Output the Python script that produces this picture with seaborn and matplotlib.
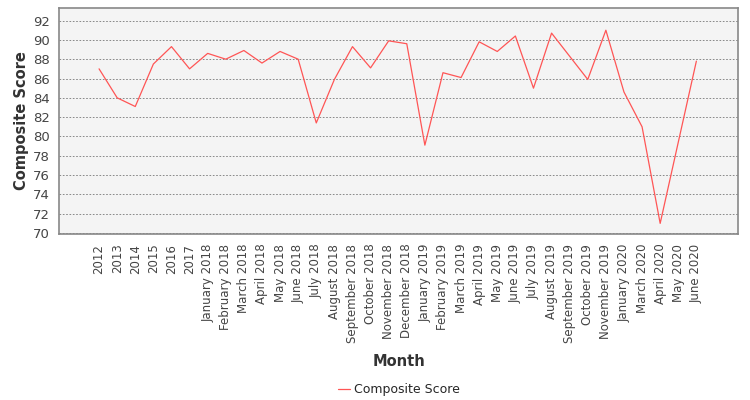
import matplotlib
matplotlib.use('Agg')
import matplotlib.pyplot as plt
import seaborn as sns
import pandas as pd

months = ['2012', '2013', '2014', '2015', '2016', '2017',
          'January 2018', 'February 2018', 'March 2018', 'April 2018', 'May 2018', 'June 2018',
          'July 2018', 'August 2018', 'September 2018', 'October 2018', 'November 2018', 'December 2018',
          'January 2019', 'February 2019', 'March 2019', 'April 2019', 'May 2019', 'June 2019',
          'July 2019', 'August 2019', 'September 2019', 'October 2019', 'November 2019',
          'January 2020', 'March 2020', 'April 2020', 'May 2020', 'June 2020']
scores = [87.0, 84.0, 83.1, 87.5, 89.3, 87.0,
          88.6, 88.0, 88.9, 87.6, 88.8, 88.0,
          81.4, 85.9, 89.3, 87.1, 89.9, 89.6,
          79.1, 86.6, 86.1, 89.8, 88.8, 90.4,
          85.0, 90.7, 88.3, 85.9, 91.0,
          84.6, 81.0, 71.0, 79.4, 87.8]

df = pd.DataFrame({'Month': months, 'Composite Score': scores})
df['pos'] = range(len(df))

sns.set_style('white')
plt.rcParams['font.family'] = ['DejaVu Sans']

fig = plt.figure(figsize=(7.5, 4), dpi=100)
ax = fig.add_axes([0.079, 0.415, 0.905, 0.565])
ax.set_facecolor('#f4f4f4')

sns.lineplot(data=df, x='pos', y='Composite Score', color='#ff5555', linewidth=0.9,
             label='Composite Score', ax=ax)

ax.set_xlim(-2.2, len(months) - 1 + 2.3)
ax.set_ylim(69.9, 93.3)
ax.set_yticks(range(70, 93, 2))
ax.set_xticks(df['pos'])
ax.set_xticklabels(months, rotation=90, fontsize=8.5, color='#444444')
ax.tick_params(axis='y', labelsize=9.5, labelcolor='#444444', length=3, color='#999999')
ax.tick_params(axis='x', length=3, color='#999999', pad=4)
ax.yaxis.grid(True, linestyle=(0, (2, 2)), color='#777777', linewidth=0.6)
ax.xaxis.grid(False)
for s in ax.spines.values():
    s.set_color('#888888')
    s.set_linewidth(1.2)

ax.set_xlabel('Month', fontsize=10.5, fontweight='bold', color='#333333', labelpad=8)
ax.set_ylabel('Composite Score', fontsize=10.5, fontweight='bold', color='#333333', labelpad=3)

ax.legend(loc='upper center', bbox_to_anchor=(0.5, -0.61), frameon=False, fontsize=9,
          handlelength=1.0, handletextpad=0.3)

fig.savefig('out.png', dpi=100)
